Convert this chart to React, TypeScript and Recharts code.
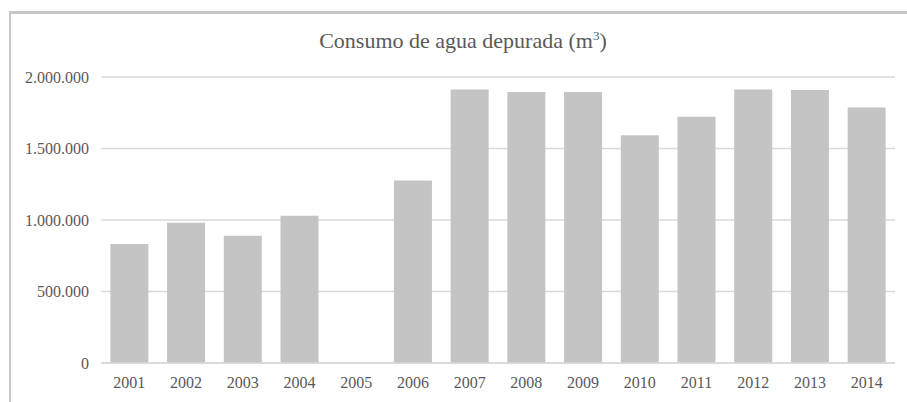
import React from "react";
import { BarChart, Bar, XAxis, YAxis, CartesianGrid } from "recharts";

const YEARS = ["2001", "2002", "2003", "2004", "2005", "2006", "2007", "2008", "2009", "2010", "2011", "2012", "2013", "2014"];
const CONSUMO = [832000, 981000, 890000, 1030000, null, 1277000, 1913000, 1895000, 1895000, 1592000, 1722000, 1913000, 1909000, 1787000];
const Y_TICKS = [0, 500000, 1000000, 1500000, 2000000];

const TEXT = "#595959";
const GRID = "#d9d9d9";
const BAR = "#c4c4c4";
const FONT = "Liberation Serif, DejaVu Serif, serif";

const data = YEARS.map((year, i) => ({ year, value: CONSUMO[i] }));

const fmt = (v: number) => String(v).replace(/\B(?=(\d{3})+(?!\d))/g, ".");

export default function App() {
  return (
    <div style={{ position: "absolute", left: 0, top: 0, width: 907, height: 402, background: "#fff", overflow: "hidden" }}>
      {/* frame lines, top and left */}
      <div
        style={{
          position: "absolute", left: 9, top: 11, width: 898, height: 391,
          borderTop: "3px solid #c8c8c8", borderLeft: "2px solid #c8c8c8", boxSizing: "border-box",
        }}
      />
      <div
        style={{
          position: "absolute", left: 19, top: 30, width: 888, textAlign: "center",
          fontFamily: FONT, fontSize: 22, lineHeight: "22px", color: TEXT, whiteSpace: "nowrap",
        }}
      >
        Consumo de agua depurada (m<sup style={{ fontSize: "0.6em", verticalAlign: "0.6em", lineHeight: 0 }}>3</sup>)
      </div>
      <div style={{ position: "absolute", left: 0, top: 0 }}>
        <BarChart
          width={907}
          height={402}
          data={data}
          margin={{ top: 77, right: 12, bottom: 9, left: 11 }}
          barCategoryGap="16.5%"
        >
          <CartesianGrid vertical={false} stroke={GRID} strokeWidth={1.5} />
          <XAxis
            dataKey="year"
            height={30}
            axisLine={{ stroke: GRID, strokeWidth: 1.5 }}
            tickLine={false}
            tickMargin={8}
            interval={0}
            tick={{ fill: TEXT, fontSize: 16, fontFamily: FONT }}
          />
          <YAxis
            width={90}
            domain={[0, 2000000]}
            ticks={Y_TICKS}
            axisLine={false}
            tickLine={false}
            tickMargin={6}
            tickFormatter={fmt}
            tick={{ fill: TEXT, fontSize: 16, fontFamily: FONT }}
          />
          <Bar dataKey="value" fill={BAR} isAnimationActive={false} />
        </BarChart>
      </div>
    </div>
  );
}
